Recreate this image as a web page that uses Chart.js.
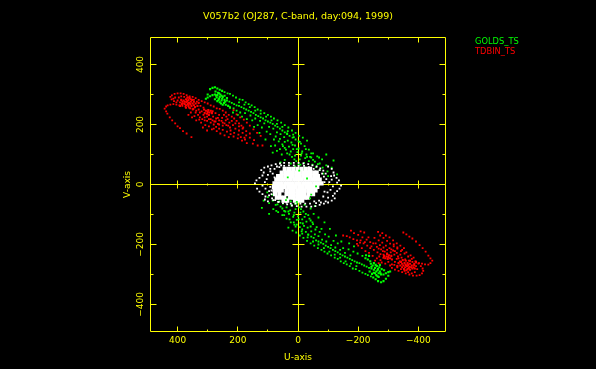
<!DOCTYPE html>
<html>
<head>
<meta charset="utf-8">
<title>V057b2</title>
<script src="https://cdn.jsdelivr.net/npm/chart.js@4"></script>
<style>
  html, body { margin: 0; padding: 0; background: #000; }
  canvas { display: block; }
</style>
</head>
<body>
<canvas id="uvChart" width="596" height="369"></canvas>
<script>
// tick marks on both axes
const uvTicks = [400, 300, 200, 100, 0, -100, -200, -300, -400];
const labelledTicks = [400, 200, 0, -200, -400];
const plotTitle = "V057b2 (OJ287, C-band, day:094, 1999)";
const seriesNames = ["GOLDS_TS", "TDBIN_TS"];

// GOLDS_TS, upper right part of the uv plane, [u, v]
const goldsUpperHead = [
  [306,286],[300,290],[292,294],[284,298],[276,300],[268,298],[260,292],[252,286],[244,282],[292,318],[284,322],[276,324],[268,320],[260,316],
  [252,312],[300,300],[270,290],[262,286],[254,280],[276,284],[268,278],[260,274],[250,292],[258,300],[266,306],[274,310],
  [246,272],[240,266],[250,266],[236,288],[244,296],[256,270],[264,282],[272,296],[254,296],[262,304],[242,276],[232,262],[226,256]
];
const goldsUpperRidge = [
  [236,280],[228,276],[220,272],[212,268],[204,264],[196,262],[188,258],[180,254],[172,250],[164,246],[156,242],[148,238],[140,232],[132,228],
  [124,224],[116,220],[108,214],[100,210],[92,206],[84,202],[76,196],[68,192],[60,186],[52,180],[44,174],[36,168],[28,162],[18,156],[8,150],[-2,144],
  [244,308],[234,304],[226,302],[216,296],[206,290],[194,284],
  [184,282],[174,274],[164,268],[154,264],[144,258],[134,250],[124,246],[112,238],[100,232],[90,226],[80,220],[68,214],[56,206],[44,198],
  [32,190],[20,180],[8,172],[-4,162],[-16,156],[-30,146],[226,258],[214,254],[204,246],[192,240]
];
const goldsUpperScatter = [
  [216,240],[200,232],[186,226],[170,218],[152,214],[134,198],[120,190],[104,176],[92,168],[80,150],[64,144],[50,128],[40,116],[24,110],[10,96],
  [-6,84],[-20,72],[176,238],[158,230],[142,220],[126,212],[112,204],[96,192],[82,186],[70,174],[58,168],[46,158],[34,146],[22,140],[10,130],
  [-2,120],[-14,110],[-28,100],[-40,92],[60,152],[44,142],[30,126],[16,118],[2,108],[-10,96],[-24,88],[-36,78],[-48,66],[-60,58],[-72,48],
  [74,160],[52,134],[36,104],[20,92],[6,78],[-8,66],[-22,58],[-34,48],[-44,90],[-56,76],[-72,70],[14,158],[-6,142],[-22,128],[-36,116],
  [-50,104],[-64,94],[-80,84],[-94,64],[-112,56],[90,128],[70,112],[54,100],[24,70],[10,60],[-4,50],[44,82],[58,74],[-84,36],[-100,28],
  [-130,34],[36,170],[108,150],[128,172],[146,192],[-118,80],[-94,100],
  [196,274],[178,266],[160,258],[142,246],[124,236],[106,226],[88,214],[70,202],[52,192],[34,178],[16,166],[-10,136],[-26,118],[-44,104],[-70,90],
  [18,132],[4,118],[-12,104],[-30,92],[-50,82],[-66,68],[-82,56],[-98,44],[44,122],[28,100],[12,84],[-2,66],[-16,50],[76,130],[60,118],[84,106]
];
// GOLDS_TS, lower left part of the uv plane
const goldsLowerHead = [
  [-306,-290],[-300,-292],[-292,-296],[-284,-300],[-276,-300],[-268,-296],[-260,-290],[-252,-284],[-244,-280],[-292,-314],[-284,-322],[-276,-326],
  [-266,-322],[-258,-316],[-250,-310],[-300,-304],[-272,-290],[-264,-286],[-256,-278],[-278,-282],[-270,-276],[-262,-272],[-286,-286],[-252,-294],
  [-260,-302],[-268,-308],[-248,-270],[-242,-264],[-252,-262],[-238,-290],[-246,-298],[-258,-268],[-266,-282],[-274,-296],
  [-256,-296],[-264,-306],[-244,-274],[-272,-268],[-236,-238],[-226,-236],[-232,-250],[-224,-246],[-240,-256]
];
const goldsLowerRidge = [
  [-236,-278],[-228,-274],[-220,-270],[-212,-266],[-204,-262],[-196,-260],[-188,-256],[-180,-252],[-172,-248],[-164,-244],[-156,-240],[-148,-236],
  [-140,-232],[-132,-226],[-124,-222],[-116,-218],[-108,-212],[-100,-208],[-92,-204],[-84,-198],[-76,-194],[-68,-190],[-242,-306],[-232,-302],
  [-224,-298],[-214,-294],[-204,-288],[-192,-282],[-182,-280],[-172,-272],[-162,-266],[-152,-262],[-142,-256],[-132,-248],[-122,-244],[-110,-236],
  [-98,-230],[-88,-224],[-78,-218],[-66,-212],[-54,-204],[-42,-196],[-30,-188],[-18,-178],[-6,-170],[6,-160],[18,-154],[32,-144],[-60,-186],
  [-52,-178],[-44,-174],[-34,-166],[-26,-158],[-14,-150],[-6,-142],[4,-134],[14,-126]
];
const goldsLowerScatter = [
  [-214,-238],[-198,-230],[-184,-224],[-168,-216],[-150,-212],[-132,-196],[-118,-188],[-102,-174],[-90,-166],[-78,-148],[-62,-142],[-48,-126],
  [-38,-114],[-22,-108],[-8,-94],[8,-82],[22,-70],[-174,-236],[-156,-228],[-140,-218],[-124,-210],[-110,-202],[-94,-190],[-80,-184],[-68,-172],
  [-56,-166],[-44,-156],[-32,-144],[-20,-138],[-8,-128],[4,-118],[16,-108],[30,-98],[42,-90],[-58,-150],[-42,-140],[-28,-124],[-14,-116],[0,-106],
  [12,-94],[26,-86],[38,-76],[50,-64],[62,-56],[74,-46],[-72,-158],[-50,-132],[-34,-102],[-18,-90],[-4,-76],[10,-64],[24,-56],[36,-46],[46,-88],
  [58,-74],[74,-68],[-12,-156],[8,-140],[24,-126],[38,-114],[52,-102],[66,-92],[82,-82],[96,-62],[114,-54],[-88,-126],[-68,-110],[-52,-98],[-22,-68],
  [-8,-58],[6,-48],[-42,-80],[-56,-72],[86,-34],[102,-26],[-34,-168],[-106,-148],[-126,-170],[-144,-190],[120,-78],[96,-98],[-186,-206],[-170,-196],
  [-194,-272],[-176,-264],[-158,-256],[-140,-244],[-122,-234],[-104,-224],[-86,-212],[-68,-200],[-50,-190],[-32,-176],[-14,-164],[12,-134],[28,-116],
  [46,-102],[72,-88],[-16,-130],[-2,-116],[14,-102],[32,-90],[52,-80],[68,-66],[84,-54],[100,-42],[-42,-120],[-26,-98],[-10,-82],[4,-64],[18,-48]
];

// TDBIN_TS, upper right part
const tdbinUpperLoops = [
  [443,253],[438,260],[433,264],[424,266],[414,268],[404,266],[394,264],[384,262],[374,260],[362,256],[350,250],[338,246],[326,240],[314,232],[302,226],
  [290,218],[278,210],[266,202],[438,244],[434,236],[426,224],[418,214],[408,204],[400,194],[392,188],[382,178],[370,170],[354,158],
  [419,297],[424,292],[420,284],[412,278],[404,274],[410,302],[400,304],[390,304],[380,302],[370,298],[360,294],[350,292],[340,288],[330,282],
  [320,278],[310,274],[300,270],[290,264],[280,260],[270,254],[260,252],[250,246],[240,240],[230,232],[220,226],[212,220],[204,212],[196,204],[188,196],
  [182,190],[396,290],[388,294],[378,292],[368,290],[356,284],[346,282],[336,276],[400,280],[392,274],[384,270],[376,268],[366,290],[408,290],[414,286]
];
const tdbinUpperHead = [
  [380,280],[372,284],[364,282],[356,276],[350,270],[362,272],[370,274],[378,270],[386,268],[372,264],[364,262],[354,262],[346,264],[340,270],[346,276],
  [358,268],[366,268],[376,276],[384,276],[368,278],[352,282],[360,288],[342,258],[334,262],[330,272],[388,282],[392,262],[372,256],[358,254],[348,252],
  [306,246],[300,242],[294,240],[302,236],[310,238],[298,248],[290,246],[296,232],[286,238],[312,250],[284,244]
];
const tdbinUpperScatter = [
  [340,240],[332,232],[326,224],[318,218],[310,214],[302,212],[290,206],[280,200],[272,192],[262,186],[250,182],[236,176],[224,168],[214,160],[200,154],
  [186,146],[170,138],[150,136],[134,130],[118,130],[330,250],[320,244],[314,256],[324,262],[274,238],[262,232],[252,222],[240,214],[228,206],[216,198],
  [208,186],[196,180],[184,172],[172,164],[160,156],[146,148],[282,226],[272,220],[262,214],[250,206],[238,198],[226,190],[270,178],[258,170],[244,164],
  [230,158],[280,186],[296,194],[308,198],[322,206],[338,214],[352,224],[364,232],[204,234],[192,224],[180,216],[170,206],[160,196],[148,184],[136,172],
  [124,162],[214,248],[238,226],[250,196],[262,200],[274,210],[286,184],[302,180],[316,190],[190,158],[176,150],
  [328,216],[344,228],[356,240],[310,224],[296,218],[284,214],[266,222],[254,212],[244,204],[232,196],[220,212],[208,204],[196,194],[184,186],[172,178],
  [160,170],[246,232],[234,218],[224,180],[212,172],[198,166],[178,156]
];
// TDBIN_TS, lower left part
const tdbinLowerLoops = [
  [-350,-160],[-360,-166],[-370,-174],[-380,-180],[-392,-190],[-404,-202],[-414,-212],[-424,-224],[-433,-237],[-440,-246],[-446,-254],[-440,-262],
  [-433,-267],[-422,-266],[-412,-264],[-402,-262],[-392,-260],[-380,-258],[-368,-254],[-356,-250],[-344,-244],[-332,-240],[-320,-234],[-308,-226],
  [-296,-218],[-284,-210],[-272,-202],[-258,-196],[-273,-170],[-284,-178],[-296,-188],[-306,-197],[-318,-206],[-330,-214],[-342,-222],[-354,-230],
  [-366,-240],[-378,-248],[-390,-256],[-400,-264],[-408,-272],[-414,-280],[-416,-288],[-412,-296],[-404,-302],[-394,-304],[-382,-304],[-370,-300],
  [-358,-296],[-346,-292],[-334,-288],[-322,-284],[-312,-278],[-396,-282],[-388,-292],[-378,-296],[-366,-292],[-354,-288],[-342,-282],[-330,-276],
  [-392,-272],[-386,-264]
];
const tdbinLowerHead = [
  [-380,-280],[-372,-284],[-364,-282],[-356,-276],[-350,-270],[-362,-272],[-370,-274],[-378,-270],[-386,-268],[-372,-264],[-364,-262],[-354,-262],
  [-346,-264],[-340,-270],[-346,-276],[-358,-268],[-366,-268],[-376,-276],[-384,-276],[-368,-278],[-352,-282],[-360,-286],[-342,-258],[-334,-262],
  [-330,-272],[-388,-280],[-392,-258],[-372,-254],[-358,-254],[-348,-252],[-306,-246],[-300,-242],[-294,-240],[-302,-236],[-310,-238],[-298,-248],
  [-290,-246],[-296,-232],[-286,-238],[-312,-250],[-284,-244]
];
const tdbinLowerScatter = [
  [-150,-170],[-162,-172],[-172,-176],[-184,-182],[-196,-186],[-206,-194],[-218,-196],[-230,-204],[-240,-212],[-252,-218],[-264,-226],[-274,-232],
  [-200,-204],[-212,-212],[-224,-222],[-236,-228],[-248,-238],[-262,-246],[-274,-252],[-186,-162],[-200,-168],[-214,-176],[-228,-184],[-240,-192],
  [-254,-178],[-268,-186],[-280,-194],[-292,-204],[-304,-212],[-316,-220],[-328,-228],[-340,-234],[-352,-212],[-340,-204],[-328,-196],[-316,-186],
  [-304,-176],[-292,-170],[-280,-162],[-266,-158],[-250,-196],[-262,-208],[-276,-216],[-288,-224],[-300,-258],[-312,-266],[-322,-258],[-328,-248],
  [-338,-256],[-290,-264],[-278,-260],[-268,-262],[-256,-254],[-244,-206],[-234,-176],[-220,-160],[-208,-156],[-176,-154],[-318,-200],[-330,-210],
  [-346,-218],[-360,-226],[-374,-236],[-384,-244],[-196,-198],[-208,-186],[-222,-192],[-268,-214],[-282,-222],[-296,-230],[-310,-216],[-322,-222],
  [-334,-246],[-320,-268],[-306,-270],[-284,-234],[-270,-240]
];

// white scans near the middle of the plane
const whiteRings = [
  [143,4],[138,14],[128,22],[118,30],[114,40],[122,48],[112,56],[100,60],[88,64],[74,68],[60,70],[46,72],[30,72],[14,72],[-2,72],[-18,70],[-34,68],
  [-48,64],[-62,60],[-74,54],[-84,46],[-92,36],[-86,26],[-100,60],[-112,52],[-118,40],[-110,28],[-143,-4],[-138,-14],[-130,-22],[-122,-30],[-116,-38],
  [-122,-46],[-112,-54],[-100,-60],[-86,-64],[-72,-68],[-58,-72],[-44,-74],[-28,-74],[-12,-74],[4,-72],[20,-70],[36,-66],[50,-62],[64,-58],[76,-52],
  [86,-46],[96,-36],[136,-14],[128,-24],[118,-32],[108,-40],[110,-50],[100,-56],[-100,-44],[-92,-56],[-76,-60],[-60,-62],[-130,6],[-136,14],[-128,22],
  [-120,30],[-112,16],[-104,8],[-116,-6],[-108,-18],[-98,-26],[100,32],[92,44],[78,52],[62,58],[46,62],[104,18],[110,8],[118,-4],[108,-14],[96,-22],[88,-32],
  [92,52],[70,60],[56,64],[84,36],[78,24],[-72,48],[-80,36],[-94,18],[-88,8],[-84,-40],[-70,-54],[-54,-56],[-88,-24],[-40,-64],[82,-52],[70,-46],[88,-20],[92,-8],
  [66,-58],[38,-60],[24,-64],[8,-64],[-8,-64],[-24,-64],[-20,62],[-36,58],[-2,62],[14,64],[30,64],[-52,52]
];
const whiteCore = [
  [44,52],[30,52],[16,52],[2,52],[-12,52],[-26,52],[-40,52],
  [54,40],[42,40],[30,40],[18,40],[6,40],[-6,40],[-18,40],[-30,40],[-42,40],[-54,40],[-62,40],
  [66,28],[54,28],[42,28],[30,28],[18,28],[6,28],[-6,28],[-18,28],[-30,28],[-42,28],[-54,28],[-66,28],
  [72,16],[60,16],[48,16],[36,16],[24,16],[12,16],[0,16],[-12,16],[-24,16],[-36,16],[-48,16],[-60,16],[-72,16],
  [78,4],[66,4],[54,4],[42,4],[30,4],[18,4],[6,4],[-6,4],[-18,4],[-30,4],[-42,4],[-54,4],[-66,4],[-78,4],
  [80,-8],[68,-8],[56,-8],[44,-8],[32,-8],[20,-8],[8,-8],[-4,-8],[-16,-8],[-28,-8],[-40,-8],[-52,-8],[-64,-8],
  [78,-20],[66,-20],[54,-20],[38,-20],[26,-20],[14,-20],[2,-20],[-10,-20],[-22,-20],[-34,-20],[-46,-20],[-58,-20],
  [76,-32],[62,-32],[38,-32],[26,-32],[14,-32],[2,-32],[-10,-32],[-22,-32],[-36,-32],[-50,-32],
  [70,-44],[58,-44],[46,-44],[26,-44],[14,-44],[2,-44],[-10,-44],[-22,-44],[-32,-44],
  [48,-54],[36,-54],[10,-54],[-2,-54],[-14,-54]
];

// these few green ones land on top of the white blob
const goldsOnWhite = [[-30,20],[40,-52],[4,-58],[-4,46],[34,24],[-44,-34],[-60,-6],[-40,-46]];

const toPoints = (pairs) => pairs.map(([x, y]) => ({ x, y }));

const yellow = "#ffff00";
const green = "#00ff00";
const red = "#ff0000";
const white = "#ffffff";
const plotFont = { family: "'DejaVu Sans'", size: 9 };

// 📏 frame, zero lines and tick marks, all placed with the chart's own scales
const axesPlugin = {
  id: "axesPlugin",
  beforeDatasetsDraw(chart) {
    const { ctx, chartArea: a, scales: { x, y } } = chart;
    const snap = (p) => Math.floor(p) + 0.5;
    const zeroX = snap(x.getPixelForValue(0));
    const zeroY = snap(y.getPixelForValue(0));
    ctx.save();
    ctx.strokeStyle = yellow;
    ctx.lineWidth = 1;
    ctx.beginPath();
    ctx.rect(a.left, a.top, a.right - a.left, a.bottom - a.top);
    ctx.moveTo(zeroX, a.top);
    ctx.lineTo(zeroX, a.bottom);
    ctx.moveTo(a.left, zeroY);
    ctx.lineTo(a.right, zeroY);
    uvTicks.forEach((t) => {
      const major = labelledTicks.includes(t);
      const px = snap(x.getPixelForValue(t));
      const py = snap(y.getPixelForValue(t));
      const lenX = major ? 5 : 2;
      const lenY = major ? 6 : 3;
      if (t !== 0) {
        ctx.moveTo(px, a.top);
        ctx.lineTo(px, a.top + lenX);
        ctx.moveTo(px, a.bottom);
        ctx.lineTo(px, a.bottom - lenX);
        ctx.moveTo(px, zeroY - lenX + 1);
        ctx.lineTo(px, zeroY + lenX - 1);
        ctx.moveTo(a.left, py);
        ctx.lineTo(a.left + lenY, py);
        ctx.moveTo(a.right, py);
        ctx.lineTo(a.right - lenY, py);
        ctx.moveTo(zeroX - lenY, py);
        ctx.lineTo(zeroX + lenY, py);
      }
    });
    ctx.stroke();
    ctx.restore();
  },
  afterDraw(chart) {
    // title centred on the frame, series names to the right of it, no symbols
    const { ctx, chartArea: a } = chart;
    ctx.save();
    ctx.textBaseline = "middle";
    ctx.font = "9.5px 'DejaVu Sans'";
    ctx.fillStyle = yellow;
    ctx.textAlign = "center";
    ctx.fillText(plotTitle, (a.left + a.right) / 2, 17);
    ctx.textAlign = "left";
    ctx.font = "8.3px 'DejaVu Sans'";
    ctx.fillStyle = green;
    ctx.fillText(seriesNames[0], 475, 42);
    ctx.fillStyle = red;
    ctx.fillText(seriesNames[1], 475, 52);
    ctx.restore();
  },
};

const scatterSet = (label, pairs, color, order, radius = 1.3) => ({
  label,
  data: toPoints(pairs),
  backgroundColor: color,
  borderWidth: 0,
  pointStyle: "rect",
  pointRadius: radius,
  order,
});

const tickLabel = (v) => {
  if (!labelledTicks.includes(v)) return "";
  return v < 0 ? "\u2212" + Math.abs(v) : String(v);
};

new Chart(document.getElementById("uvChart"), {
  type: "scatter",
  data: {
    datasets: [
      scatterSet(seriesNames[0], goldsOnWhite, green, 0),
      scatterSet("white rings", whiteRings, white, 1),
      scatterSet("white core", whiteCore, white, 2, 3),
      scatterSet(seriesNames[1], tdbinUpperLoops, red, 3),
      scatterSet(seriesNames[1], tdbinUpperHead, red, 3, 1.5),
      scatterSet(seriesNames[1], tdbinUpperScatter, red, 3),
      scatterSet(seriesNames[1], tdbinLowerLoops, red, 3),
      scatterSet(seriesNames[1], tdbinLowerHead, red, 3, 1.5),
      scatterSet(seriesNames[1], tdbinLowerScatter, red, 3),
      scatterSet(seriesNames[0], goldsUpperHead, green, 4, 1.5),
      scatterSet(seriesNames[0], goldsUpperRidge, green, 4),
      scatterSet(seriesNames[0], goldsUpperScatter, green, 4),
      scatterSet(seriesNames[0], goldsLowerHead, green, 4, 1.5),
      scatterSet(seriesNames[0], goldsLowerRidge, green, 4),
      scatterSet(seriesNames[0], goldsLowerScatter, green, 4),
    ],
  },
  options: {
    responsive: false,
    animation: false,
    events: [],
    layout: { padding: { left: 100, right: 150.5, top: 37.5, bottom: 0 } },
    plugins: {
      legend: { display: false },
      tooltip: { enabled: false },
      title: { display: false },
    },
    scales: {
      x: {
        type: "linear",
        min: -490,
        max: 490,
        reverse: true,
        grid: { display: false, drawTicks: false },
        border: { display: false },
        afterFit: (s) => { s.height = 37.5; },
        ticks: {
          stepSize: 100,
          includeBounds: false,
          autoSkip: false,
          maxRotation: 0,
          minRotation: 0,
          padding: 4,
          color: yellow,
          font: plotFont,
          callback: tickLabel,
        },
        title: { display: true, text: "U-axis", color: yellow, font: plotFont, padding: { top: 0, bottom: 5.6 } },
      },
      y: {
        type: "linear",
        min: -490,
        max: 490,
        grid: { display: false, drawTicks: false },
        border: { display: false },
        afterFit: (s) => { s.width = 50.5; },
        ticks: {
          stepSize: 100,
          includeBounds: false,
          autoSkip: false,
          maxRotation: 90,
          minRotation: 90,
          crossAlign: "center",
          padding: -2.5,
          color: yellow,
          font: plotFont,
          callback: tickLabel,
        },
        title: { display: true, text: "V-axis", color: yellow, font: plotFont, padding: { top: 22, bottom: 0 } },
      },
    },
  },
  plugins: [axesPlugin],
});
</script>
</body>
</html>
